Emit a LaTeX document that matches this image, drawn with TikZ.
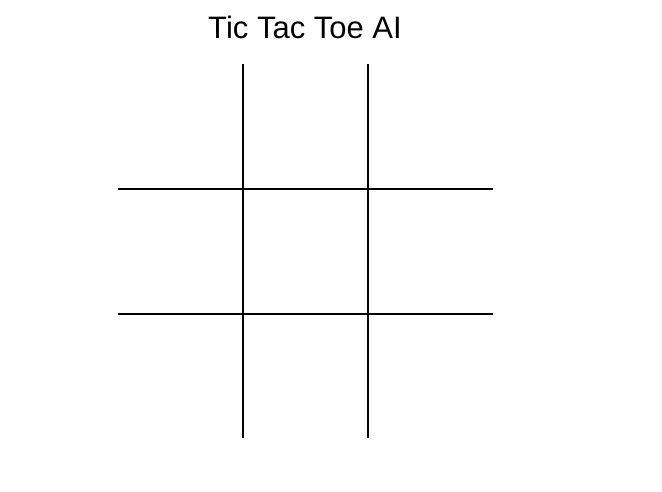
\documentclass[tikz,border=0pt]{standalone}
\usepackage{fontspec}
\setmainfont{Liberation Sans}
\begin{document}
\begin{tikzpicture}[x=1pt,y=-1pt,gridline/.style={line width=2pt,black}]
\useasboundingbox (0,0) rectangle (662,491);
\node[font=\fontsize{31}{36}\selectfont,inner sep=0pt] (title) at (305,27) {Tic Tac Toe AI};
\coordinate (v1t) at (243,64); \coordinate (v1b) at (243,438);
\coordinate (v2t) at (368,64); \coordinate (v2b) at (368,438);
\coordinate (h1l) at (118,188.5); \coordinate (h1r) at (493,188.5);
\coordinate (h2l) at (118,313.5); \coordinate (h2r) at (493,313.5);
\draw[gridline] (v1t) -- (v1b);
\draw[gridline] (v2t) -- (v2b);
\draw[gridline] (h1l) -- (h1r);
\draw[gridline] (h2l) -- (h2r);
\end{tikzpicture}
\end{document}
